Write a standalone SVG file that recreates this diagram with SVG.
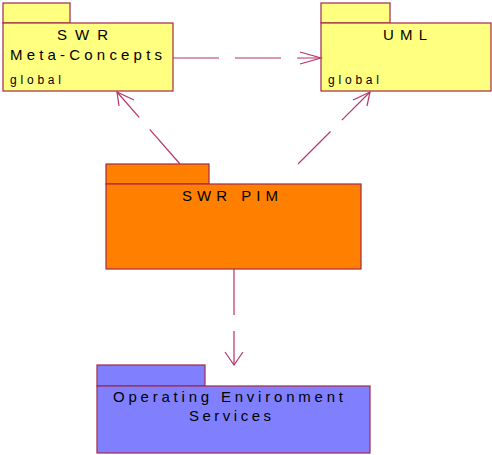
<svg xmlns="http://www.w3.org/2000/svg" width="492" height="455" viewBox="0 0 492 455">
<style>
.pkg{stroke:#a3284a;stroke-width:1.2}
.y{fill:#ffff80}.o{fill:#ff8000}.b{fill:#8080ff}
.t{font-family:"Liberation Sans",Arial,sans-serif;font-size:15px;fill:#000}
.s{font-family:"Liberation Sans",Arial,sans-serif;font-size:12px;fill:#000}
.c{fill:none;stroke:#b8336a;stroke-width:1.2}
.d{stroke-dasharray:46 16}
</style>
<rect width="492" height="455" fill="#fff"/>
<g id="swr-meta-concepts">
<rect class="pkg y" x="3" y="3" width="67" height="20"/>
<rect class="pkg y" x="3" y="23" width="170" height="68"/>
<text class="t" x="57" y="39.5" textLength="51" lengthAdjust="spacing">SWR</text>
<text class="t" x="10" y="59.5" textLength="152" lengthAdjust="spacing">Meta-Concepts</text>
<text class="s" x="10" y="84" textLength="51" lengthAdjust="spacing">global</text>
</g>
<g id="uml">
<rect class="pkg y" x="321" y="3" width="69" height="20"/>
<rect class="pkg y" x="321" y="23" width="170" height="68"/>
<text class="t" x="383" y="40" textLength="44" lengthAdjust="spacing">UML</text>
<text class="s" x="328" y="84" textLength="51" lengthAdjust="spacing">global</text>
</g>
<g id="swr-pim">
<rect class="pkg o" x="106" y="164" width="103" height="20"/>
<rect class="pkg o" x="106" y="184" width="255" height="85"/>
<text class="t" x="182" y="200.5" textLength="96" lengthAdjust="spacing">SWR PIM</text>
</g>
<g id="operating-environment-services">
<rect class="pkg b" x="97" y="365" width="108" height="21"/>
<rect class="pkg b" x="97" y="386" width="273" height="67"/>
<text class="t" x="113" y="401.5" textLength="230" lengthAdjust="spacing">Operating Environment</text>
<text class="t" x="189" y="420.5" textLength="82" lengthAdjust="spacing">Services</text>
</g>
<g id="connectors">
<path class="c d" d="M173,58 L321,58"/>
<path class="c" d="M300,52 L321,58 L300,64"/>
<path class="c d" d="M180,164 L117,92"/>
<path class="c" d="M134,100 L117,92 L119,106"/>
<path class="c d" d="M298,164 L370,92"/>
<path class="c" d="M353,100 L370,92 L367,106"/>
<path class="c d" d="M234,269 L234,365"/>
<path class="c" d="M225,352 L234,365 L243,352"/>
</g>
</svg>
